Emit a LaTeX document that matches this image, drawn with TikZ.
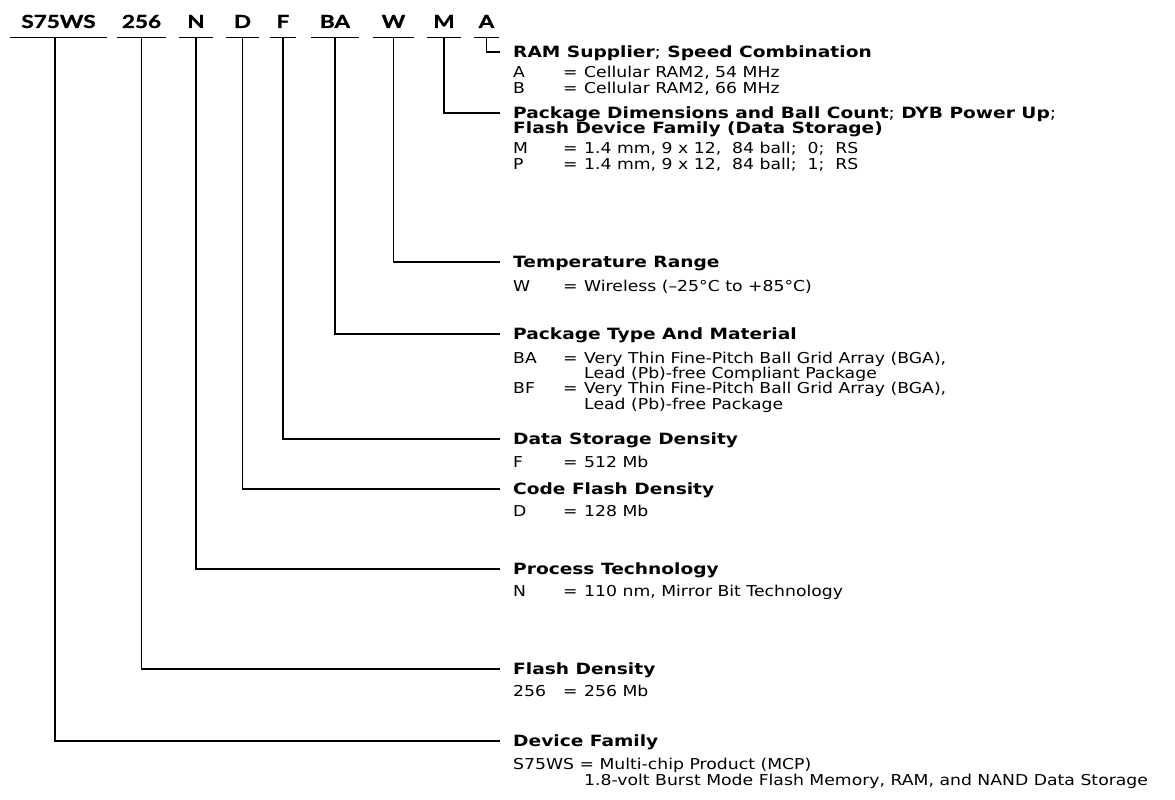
\documentclass[tikz,border=0pt]{standalone}
\usepackage{fontspec}
\setmainfont{DejaVu Sans}[FakeStretch=1.15]
\newfontfamily\headfont{DejaVu Sans}[FakeStretch=1.2]
\newfontfamily\codefont{Lato}[FakeStretch=1.25,BoldFeatures={FakeBold=1.2}]
\newcommand{\partrow}[2]{\makebox[50pt][l]{#1}\makebox[21pt][l]{=}#2}
\newcommand{\partcont}[1]{\hspace*{71pt}#1}
\tikzset{
  partno/.style={font=\codefont\bfseries\fontsize{18}{18}\selectfont,inner xsep=0pt,inner ysep=9pt,
    text height=13pt,text depth=0pt,anchor=base,minimum width=#1},
  heading/.style={font=\headfont\bfseries\fontsize{15.5}{15.5}\selectfont,anchor=west,inner xsep=13pt,
    inner ysep=0pt,text height=11pt,text depth=0pt},
  entry/.style={font=\fontsize{15}{15.3}\selectfont,anchor=base west,inner sep=0pt,align=left},
  leader/.style={line width=1.3pt}
}
\begin{document}
\begin{tikzpicture}[x=1pt,y=-1pt]
\useasboundingbox (0,0) rectangle (1175,800);
% part number
\node[partno=97] (fam) at (58.5,28) {S75WS};
\node[partno=49] (dens) at (141.5,28) {256};
\node[partno=34] (proc) at (196,28) {N};
\node[partno=33] (code) at (242.5,28) {D};
\node[partno=26] (data) at (283,28) {F};
\node[partno=48] (pkg) at (335,28) {BA};
\node[partno=41] (temp) at (393.5,28) {W};
\node[partno=34] (dim) at (444,28) {M};
\node[partno=25] (ram) at (486.5,28) {A};
\foreach \n in {fam,dens,proc,code,data,pkg,temp,dim,ram}
  \draw[leader] (\n.south west) -- (\n.south east);
% headings
\node[heading] (ramhd) at (500,52) {RAM Supplier\textmd{;} Speed Combination};
\node[heading] (dimhd) at (500,113) {Package Dimensions and Ball Count\textmd{;} DYB Power Up\textmd{;}};
\node[heading] (dimhdb) at (500,128) {Flash Device Family (Data Storage)};
\node[heading] (temphd) at (500,262) {Temperature Range};
\node[heading] (pkghd) at (500,334) {Package Type And Material};
\node[heading] (datahd) at (500,439) {Data Storage Density};
\node[heading] (codehd) at (500,489) {Code Flash Density};
\node[heading] (prochd) at (500,569) {Process Technology};
\node[heading] (denshd) at (500,669) {Flash Density};
\node[heading] (famhd) at (500,741) {Device Family};
% entries (anchored on the last line)
\node[entry] (ramtx) at (513,93) {\partrow{A}{Cellular RAM2, 54 MHz}\\\partrow{B}{Cellular RAM2, 66 MHz}};
\node[entry] (dimtx) at (513,169) {\partrow{M}{1.4 mm, 9 x 12,\ \ 84 ball;\ \ 0;\ \ RS}\\\partrow{P}{1.4 mm, 9 x 12,\ \ 84 ball;\ \ 1;\ \ RS}};
\node[entry] (temptx) at (513,291.5) {\partrow{W}{Wireless (–25°C to +85°C)}};
\node[entry] (pkgtx) at (513,409) {\partrow{BA}{Very Thin Fine-Pitch Ball Grid Array (BGA),}\\\partcont{Lead (Pb)-free Compliant Package}\\
  \partrow{BF}{Very Thin Fine-Pitch Ball Grid Array (BGA),}\\\partcont{Lead (Pb)-free Package}};
\node[entry] (datatx) at (513,467.5) {\partrow{F}{512 Mb}};
\node[entry] (codetx) at (513,516.5) {\partrow{D}{128 Mb}};
\node[entry] (proctx) at (513,596.5) {\partrow{N}{110 nm, Mirror Bit Technology}};
\node[entry] (denstx) at (513,696.5) {\partrow{256}{256 Mb}};
\node[entry] (famtx) at (513,785) {S75WS = Multi-chip Product (MCP)\\\partcont{1.8-volt Burst Mode Flash Memory, RAM, and NAND Data Storage}};
% leaders
\draw[leader] (ram.south) |- (ramhd.west);
\draw[leader] (dim.south) |- (dimhd.west);
\draw[leader] (temp.south) |- (temphd.west);
\draw[leader] (pkg.south) |- (pkghd.west);
\draw[leader] (data.south) |- (datahd.west);
\draw[leader] (code.south) |- (codehd.west);
\draw[leader] (proc.south) |- (prochd.west);
\draw[leader] (dens.south) |- (denshd.west);
\draw[leader] ([xshift=-3.5pt]fam.south) |- (famhd.west);
\end{tikzpicture}
\end{document}
